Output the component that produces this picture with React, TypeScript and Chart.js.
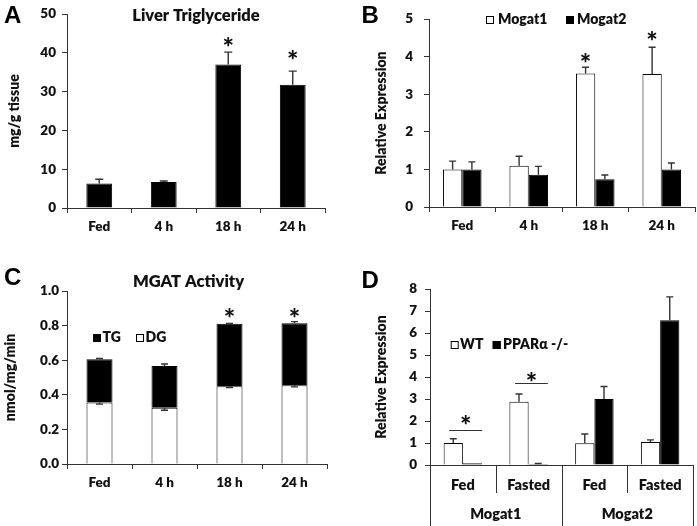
import React, { useEffect, useRef } from "react";
import { Chart, registerables } from "chart.js";

Chart.register(...registerables);

const FONT = "Lato, 'Open Sans', 'DejaVu Sans', sans-serif";
const LETTER_FONT = "'Liberation Sans', Arial, sans-serif";
const INK = "#111";
const AXIS = "#333";
const W = "800";

// ---------- Panel A: Liver Triglyceride ----------
const timeLabels = ["Fed", "4 h", "18 h", "24 h"];
const liverTG = [6.3, 6.7, 37.0, 31.8];
const liverTGErr = [1.1, 0.25, 3.2, 3.5];
const liverTGStars = [null, null, 42.9, 39.5];

// ---------- Panel B: Mogat expression during fasting ----------
const mogat1Fasting = [1.0, 1.1, 3.55, 3.54];
const mogat1FastingErr = [0.22, 0.25, 0.17, 0.71];
const mogat2Fasting = [1.0, 0.86, 0.74, 1.0];
const mogat2FastingErr = [0.2, 0.22, 0.11, 0.17];
const mogatFastingStars = [null, null, 3.97, 4.56];

// ---------- Panel C: MGAT Activity ----------
const dgActivity = [0.356, 0.325, 0.449, 0.455];
const dgActivityErr = [0.01, 0.014, 0.007, 0.009];
const tgActivity = [0.249, 0.241, 0.361, 0.358];
const totalActivityErr = [0.005, 0.012, 0.003, 0.01];
const activityStars = [null, null, 0.872, 0.872];

// ---------- Panel D: WT vs PPARα-/- ----------
const dConditions = ["Fed", "Fasted", "Fed", "Fasted"];
const dGenes = ["Mogat1", "Mogat2"];
const wtExpr = [1.0, 2.87, 0.99, 1.04];
const wtExprErr = [0.19, 0.36, 0.42, 0.1];
const koExpr = [0.08, 0.05, 3.0, 6.58];
const koExprErr = [0, 0.02, 0.57, 1.06];
const sigLineLevels = [1.59, 3.74, null, null];
const sigStarLevels = [2.04, 4.02, null, null];

type ErrSpec = { ds: number; err: number[]; dir: 1 | -1; cap: number };
type LegendItem = { label: string; fill: string; x: number; tx: number };
type Extras = {
  letter: { text: string; x: number; y: number };
  title?: { text: string; x: number; y: number };
  legend?: { y: number; items: LegendItem[] };
  errs: ErrSpec[];
  stars?: { ds: number; levels: (number | null)[] };
  sig?: boolean;
  groups?: boolean;
};

function drawStar(ctx: CanvasRenderingContext2D, x: number, yCenter: number) {
  ctx.save();
  ctx.font = `900 27px ${FONT}`;
  ctx.textAlign = "center";
  ctx.textBaseline = "alphabetic";
  ctx.fillStyle = INK;
  ctx.fillText("*", x, yCenter + 15);
  ctx.restore();
}

function makeExtras(cfg: Extras) {
  return {
    id: "panelExtras",
    afterDatasetsDraw(chart: any) {
      const ctx: CanvasRenderingContext2D = chart.ctx;
      const yS = chart.scales.y;
      ctx.save();
      ctx.strokeStyle = "#333";
      ctx.lineWidth = 1.4;
      for (const spec of cfg.errs) {
        const meta = chart.getDatasetMeta(spec.ds);
        meta.data.forEach((el: any, i: number) => {
          const e = spec.err[i];
          if (!e) return;
          const len = yS.getPixelForValue(0) - yS.getPixelForValue(e);
          const yTo = el.y - spec.dir * len;
          ctx.beginPath();
          ctx.moveTo(el.x, el.y);
          ctx.lineTo(el.x, yTo);
          ctx.moveTo(el.x - spec.cap / 2, yTo);
          ctx.lineTo(el.x + spec.cap / 2, yTo);
          ctx.stroke();
        });
      }
      ctx.restore();
    },
    afterDraw(chart: any) {
      const ctx: CanvasRenderingContext2D = chart.ctx;
      const yS = chart.scales.y;
      const area = chart.chartArea;
      ctx.save();
      // panel letter
      ctx.fillStyle = "#000";
      ctx.font = `bold 24px ${LETTER_FONT}`;
      ctx.textAlign = "left";
      ctx.textBaseline = "alphabetic";
      ctx.fillText(cfg.letter.text, cfg.letter.x, cfg.letter.y);
      // title
      if (cfg.title) {
        ctx.fillStyle = INK;
        ctx.font = `${W} 16.5px ${FONT}`;
        ctx.textAlign = "center";
        ctx.fillText(cfg.title.text, cfg.title.x, cfg.title.y);
      }
      // legend
      if (cfg.legend) {
        ctx.font = `${W} 14px ${FONT}`;
        ctx.textAlign = "left";
        for (const it of cfg.legend.items) {
          ctx.fillStyle = it.fill;
          ctx.fillRect(it.x, cfg.legend.y - 8, 8, 8);
          ctx.strokeStyle = "#000";
          ctx.lineWidth = 1;
          ctx.strokeRect(it.x + 0.5, cfg.legend.y - 7.5, 7, 7);
          ctx.fillStyle = INK;
          ctx.fillText(it.label, it.tx, cfg.legend.y);
        }
      }
      // stars
      if (cfg.stars) {
        const meta = chart.getDatasetMeta(cfg.stars.ds);
        cfg.stars.levels.forEach((lv, i) => {
          if (lv == null) return;
          drawStar(ctx, meta.data[i].x, yS.getPixelForValue(lv));
        });
      }
      // significance lines (panel D)
      if (cfg.sig) {
        const m0 = chart.getDatasetMeta(0);
        const m1 = chart.getDatasetMeta(1);
        sigLineLevels.forEach((lv, i) => {
          if (lv == null) return;
          const x0 = m0.data[i].x - 4;
          const x1 = m1.data[i].x + m1.data[i].width / 2;
          const y = Math.round(yS.getPixelForValue(lv)) + 0.5;
          ctx.strokeStyle = "#333";
          ctx.lineWidth = 1.2;
          ctx.beginPath();
          ctx.moveTo(x0, y);
          ctx.lineTo(x1, y);
          ctx.stroke();
          const sl = sigStarLevels[i];
          if (sl != null) drawStar(ctx, (x0 + x1) / 2, yS.getPixelForValue(sl));
        });
      }
      // grouped x-axis (panel D)
      if (cfg.groups) {
        const n = dConditions.length;
        const step = (area.right - area.left) / n;
        const base = area.bottom;
        ctx.strokeStyle = AXIS;
        ctx.lineWidth = 1;
        for (let k = 0; k <= n; k++) {
          const x = Math.round(area.left + k * step) + 0.5;
          const full = k % 2 === 0;
          ctx.beginPath();
          ctx.moveTo(x, base);
          ctx.lineTo(x, full ? chart.height : base + 28);
          ctx.stroke();
        }
        ctx.fillStyle = INK;
        ctx.font = `${W} 14.5px ${FONT}`;
        ctx.textAlign = "center";
        dGenes.forEach((g, gi) => {
          const cx = area.left + (gi * 2 + 1) * step;
          ctx.fillText(g, cx, base + 54);
        });
      }
      ctx.restore();
    },
  };
}

function yAxis(opts: {
  max: number;
  step: number;
  width: number;
  title: string;
  titlePad: number;
  tickPad: number;
  fmt?: (v: number) => string;
}) {
  return {
    min: 0,
    max: opts.max,
    ticks: {
      stepSize: opts.step,
      color: INK,
      font: { family: FONT, size: 13.5, weight: W },
      padding: opts.tickPad,
      callback: opts.fmt ? (v: any) => opts.fmt!(Number(v)) : (v: any) => String(v),
    },
    grid: { display: true, drawOnChartArea: false, drawTicks: true, tickLength: 5, color: AXIS, lineWidth: 1 },
    border: { display: true, color: AXIS, width: 1 },
    title: {
      display: true,
      text: opts.title,
      color: INK,
      font: { family: FONT, size: 14, weight: W },
      padding: { top: opts.titlePad, bottom: 0 },
    },
    afterFit: (s: any) => {
      s.width = opts.width;
    },
  };
}

function xAxis(opts: { height: number; pad: number; ticks: boolean; size?: number; stacked?: boolean }) {
  return {
    type: "category",
    stacked: !!opts.stacked,
    offset: true,
    ticks: {
      color: INK,
      font: { family: FONT, size: opts.size || 13.5, weight: W },
      padding: opts.pad,
      maxRotation: 0,
      autoSkip: false,
    },
    grid: {
      display: opts.ticks,
      drawOnChartArea: false,
      drawTicks: opts.ticks,
      tickLength: 5,
      offset: true,
      color: AXIS,
      lineWidth: 1,
    },
    border: { display: true, color: AXIS, width: 1 },
    afterFit: (s: any) => {
      s.height = opts.height;
    },
  };
}

const baseOptions = {
  responsive: false,
  animation: false,
  devicePixelRatio: 1,
  plugins: { legend: { display: false }, tooltip: { enabled: false } },
};

function configA() {
  return {
    type: "bar",
    data: {
      labels: timeLabels,
      datasets: [
        {
          data: liverTG,
          backgroundColor: "#000",
          borderColor: "#000",
          borderWidth: 1,
          categoryPercentage: 1,
          barPercentage: 0.4,
        },
      ],
    },
    options: {
      ...baseOptions,
      layout: { padding: { top: 10, right: 23, left: 0, bottom: 0 } },
      scales: {
        x: xAxis({ height: 52, pad: 6, ticks: true }),
        y: yAxis({ max: 50, step: 10, width: 67, title: "mg/g tissue", titlePad: 6.5, tickPad: 6 }),
      },
    },
    plugins: [
      makeExtras({
        letter: { text: "A", x: 4, y: 23 },
        title: { text: "Liver Triglyceride", x: 196, y: 21 },
        errs: [{ ds: 0, err: liverTGErr, dir: 1, cap: 8 }],
        stars: { ds: 0, levels: liverTGStars },
      }),
    ],
  };
}

function configB() {
  return {
    type: "bar",
    data: {
      labels: timeLabels,
      datasets: [
        {
          label: "Mogat1",
          data: mogat1Fasting,
          backgroundColor: "#fff",
          borderColor: "#000",
          borderWidth: 1,
          categoryPercentage: 0.58,
          barPercentage: 1,
        },
        {
          label: "Mogat2",
          data: mogat2Fasting,
          backgroundColor: "#000",
          borderColor: "#000",
          borderWidth: 1,
          categoryPercentage: 0.58,
          barPercentage: 1,
        },
      ],
    },
    options: {
      ...baseOptions,
      layout: { padding: { top: 7, right: 2, left: 0, bottom: 0 } },
      scales: {
        x: xAxis({ height: 53, pad: 6, ticks: true }),
        y: yAxis({ max: 5, step: 1, width: 81, title: "Relative Expression", titlePad: 25, tickPad: 11 }),
      },
    },
    plugins: [
      makeExtras({
        letter: { text: "B", x: 13.5, y: 23.3 },
        legend: {
          y: 24,
          items: [
            { label: "Mogat1", fill: "#fff", x: 138, tx: 150 },
            { label: "Mogat2", fill: "#000", x: 218, tx: 229 },
          ],
        },
        errs: [
          { ds: 0, err: mogat1FastingErr, dir: 1, cap: 7 },
          { ds: 1, err: mogat2FastingErr, dir: 1, cap: 7 },
        ],
        stars: { ds: 0, levels: mogatFastingStars },
      }),
    ],
  };
}

function configC() {
  return {
    type: "bar",
    data: {
      labels: timeLabels,
      datasets: [
        {
          label: "DG",
          data: dgActivity,
          backgroundColor: "#fff",
          borderColor: "#000",
          borderWidth: 1,
          categoryPercentage: 1,
          barPercentage: 0.4,
        },
        {
          label: "TG",
          data: tgActivity,
          backgroundColor: "#000",
          borderColor: "#000",
          borderWidth: 1,
          categoryPercentage: 1,
          barPercentage: 0.4,
        },
      ],
    },
    options: {
      ...baseOptions,
      layout: { padding: { top: 31, right: 21, left: 0, bottom: 0 } },
      scales: {
        x: xAxis({ height: 62, pad: 6, ticks: true, stacked: true }),
        y: {
          ...yAxis({
            max: 1.0,
            step: 0.2,
            width: 67,
            title: "nmol/mg/min",
            titlePad: 1.6,
            tickPad: 3,
            fmt: (v) => v.toFixed(1),
          }),
          stacked: true,
        },
      },
    },
    plugins: [
      makeExtras({
        letter: { text: "C", x: 4, y: 25 },
        title: { text: "MGAT Activity", x: 188.5, y: 27 },
        legend: {
          y: 82,
          items: [
            { label: "TG", fill: "#000", x: 93, tx: 102.5 },
            { label: "DG", fill: "#fff", x: 136, tx: 145.5 },
          ],
        },
        errs: [
          { ds: 1, err: totalActivityErr, dir: 1, cap: 7 },
          { ds: 0, err: dgActivityErr, dir: -1, cap: 7 },
        ],
        stars: { ds: 0, levels: activityStars },
      }),
    ],
  };
}

function configD() {
  return {
    type: "bar",
    data: {
      labels: dConditions,
      datasets: [
        {
          label: "WT",
          data: wtExpr,
          backgroundColor: "#fff",
          borderColor: "#000",
          borderWidth: 1,
          categoryPercentage: 0.585,
          barPercentage: 1,
        },
        {
          label: "PPARα -/-",
          data: koExpr,
          backgroundColor: "#000",
          borderColor: "#000",
          borderWidth: 1,
          categoryPercentage: 0.585,
          barPercentage: 1,
        },
      ],
    },
    options: {
      ...baseOptions,
      layout: { padding: { top: 29, right: 4, left: 0, bottom: 0 } },
      scales: {
        x: xAxis({ height: 61, pad: 12, ticks: false, size: 14.5 }),
        y: yAxis({ max: 8, step: 1, width: 82, title: "Relative Expression", titlePad: 24.6, tickPad: 8 }),
      },
    },
    plugins: [
      makeExtras({
        letter: { text: "D", x: 13.5, y: 28.3 },
        legend: {
          y: 89,
          items: [
            { label: "WT", fill: "#fff", x: 102.7, tx: 112 },
            { label: "PPARα -/-", fill: "#000", x: 144.7, tx: 155 },
          ],
        },
        errs: [
          { ds: 0, err: wtExprErr, dir: 1, cap: 7 },
          { ds: 1, err: koExprErr, dir: 1, cap: 7 },
        ],
        sig: true,
        groups: true,
      }),
    ],
  };
}

function Panel(props: { left: number; top: number; width: number; height: number; make: () => any }) {
  const ref = useRef<HTMLCanvasElement>(null);
  useEffect(() => {
    const chart = new Chart(ref.current as HTMLCanvasElement, props.make());
    return () => chart.destroy();
  }, []);
  return (
    <div style={{ position: "absolute", left: props.left, top: props.top, width: props.width, height: props.height }}>
      <canvas ref={ref} width={props.width} height={props.height} style={{ width: props.width, height: props.height, display: "block" }} />
    </div>
  );
}

export default function App() {
  return (
    <div style={{ position: "fixed", left: 0, top: 0, width: 697, height: 526, background: "#fff", overflow: "hidden" }}>
      <Panel left={0} top={0} width={348} height={260} make={configA} />
      <Panel left={348} top={0} width={349} height={260} make={configB} />
      <Panel left={0} top={260} width={348} height={266} make={configC} />
      <Panel left={348} top={260} width={349} height={266} make={configD} />
    </div>
  );
}
